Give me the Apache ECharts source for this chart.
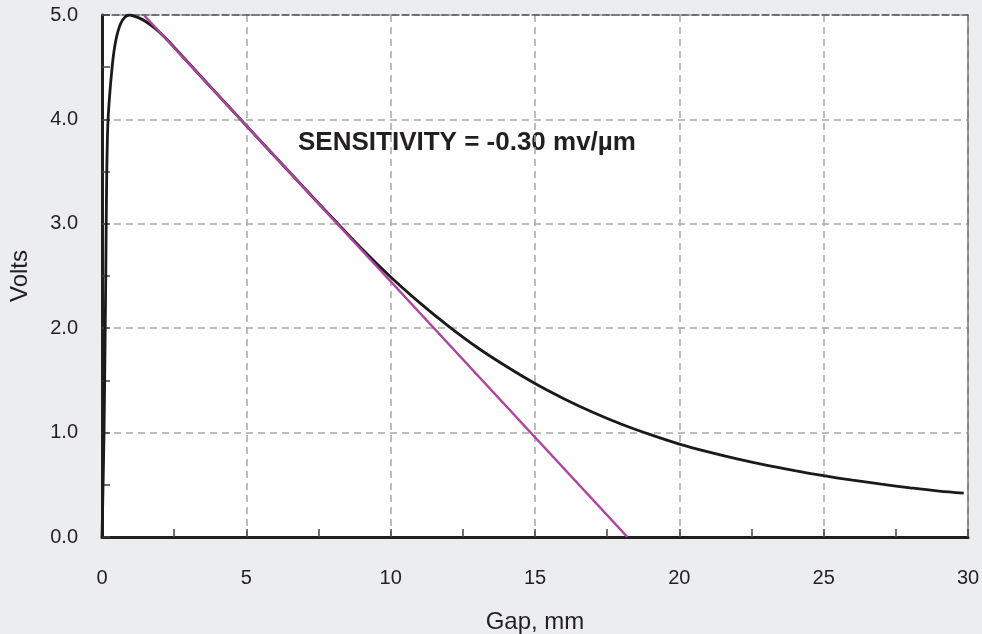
<!DOCTYPE html>
<html>
<head>
<meta charset="utf-8">
<script src="https://cdn.jsdelivr.net/npm/echarts@6/dist/echarts.min.js"></script>
<style>
html,body{margin:0;padding:0;background:#ecedef;}
#c{width:982px;height:634px;}
</style>
</head>
<body>
<div id="c"></div>
<script>
// Response curve: gap (mm) vs output (Volts)
const gapX = [0, 0.03, 0.07, 0.10, 0.13, 0.16, 0.19, 0.22, 0.27, 0.32, 0.39, 0.46, 0.55, 0.65, 0.80, 0.95, 1.10, 1.30, 1.50, 1.85, 2.2, 2.6, 3, 4, 5, 6, 7, 8, 9, 10, 11, 12, 13, 14, 15, 16, 17, 18, 19, 20, 21, 22, 23, 24, 25, 26, 27, 28, 29, 29.85];
const voltsY = [0, 0.40, 1.00, 1.70, 2.50, 3.40, 3.85, 4.05, 4.25, 4.41, 4.60, 4.73, 4.84, 4.92, 4.98, 5.00, 4.99, 4.97, 4.94, 4.87, 4.78, 4.66, 4.54, 4.24, 3.94, 3.642, 3.345, 3.05, 2.76, 2.49, 2.245, 2.02, 1.815, 1.635, 1.47, 1.325, 1.195, 1.08, 0.98, 0.89, 0.815, 0.748, 0.688, 0.635, 0.587, 0.544, 0.506, 0.471, 0.439, 0.42];
// Tangent (sensitivity) line
const tangentX = [1.45, 18.2];
const tangentY = [5.0, 0.0];
const xTicks = [0, 5, 10, 15, 20, 25, 30];
const yTicks = [0, 1, 2, 3, 4, 5];
const annotation = 'SENSITIVITY = -0.30 mv/\u00B5m';
const xName = 'Gap, mm';
const yName = 'Volts';

const curve = gapX.map((x, i) => [x, voltsY[i]]);
const tangent = tangentX.map((x, i) => [x, tangentY[i]]);

const txt = '#231f20';
const font = '"Liberation Sans", Arial, sans-serif';

const chart = echarts.init(document.getElementById('c'));
chart.setOption({
  backgroundColor: '#ecedef',
  animation: false,
  textStyle: { fontFamily: font },
  grid: { left: 102, top: 15, right: 14, bottom: 97, show: true, backgroundColor: '#ffffff', borderWidth: 0, containLabel: false, outerBoundsMode: 'none' },
  xAxis: [{
    type: 'value', min: xTicks[0], max: xTicks[xTicks.length - 1], interval: 5,
    name: xName, nameLocation: 'middle', nameGap: 73,
    nameTextStyle: { color: txt, fontSize: 24, fontFamily: font },
    axisLine: { show: true, onZero: false, lineStyle: { color: txt, width: 3 } },
    axisTick: { show: true, inside: true, length: 8, lineStyle: { color: '#444', width: 1.5 } },
    minorTick: { show: true, splitNumber: 2, length: 8, lineStyle: { color: '#444', width: 1.5 } },
    axisLabel: { color: txt, fontSize: 20, margin: 31, fontFamily: font },
    splitLine: { show: true, lineStyle: { color: '#a8a8a8', width: 1.5, type: [7, 5] } }
  }, {
    type: 'value', position: 'top', min: xTicks[0], max: xTicks[xTicks.length - 1], interval: 5,
    axisLine: { show: true, onZero: false, lineStyle: { color: '#555', width: 1.5, type: [7, 3] } },
    axisTick: { show: false }, axisLabel: { show: false }, splitLine: { show: false }
  }],
  yAxis: [{
    type: 'value', min: yTicks[0], max: yTicks[yTicks.length - 1], interval: 1,
    name: yName, nameLocation: 'middle', nameGap: 70,
    nameTextStyle: { color: txt, fontSize: 24, fontFamily: font },
    axisLine: { show: true, onZero: false, lineStyle: { color: txt, width: 3 } },
    axisTick: { show: true, inside: true, length: 8, lineStyle: { color: '#444', width: 1.5 } },
    minorTick: { show: true, splitNumber: 2, length: 8, lineStyle: { color: '#444', width: 1.5 } },
    axisLabel: { color: txt, fontSize: 20, margin: 24, fontFamily: font, formatter: v => v.toFixed(1) },
    splitLine: { show: true, lineStyle: { color: '#a8a8a8', width: 1.5, type: [7, 5] } }
  }, {
    type: 'value', position: 'right', min: yTicks[0], max: yTicks[yTicks.length - 1], interval: 1,
    axisLine: { show: true, onZero: false, lineStyle: { color: '#777', width: 1.5 } },
    axisTick: { show: false }, axisLabel: { show: false }, splitLine: { show: false }
  }],
  series: [{
    type: 'line', data: curve, showSymbol: false, smooth: 0.3,
    lineStyle: { color: '#1a1a1a', width: 2.8 }, z: 3
  }, {
    type: 'line', data: tangent, showSymbol: false,
    lineStyle: { color: '#b0429f', width: 2.5 }, z: 4
  }],
  graphic: [{
    type: 'text', left: 298, top: 130,
    style: { text: annotation, fill: txt, font: 'bold 26px ' + font }
  }]
});
</script>
</body>
</html>
